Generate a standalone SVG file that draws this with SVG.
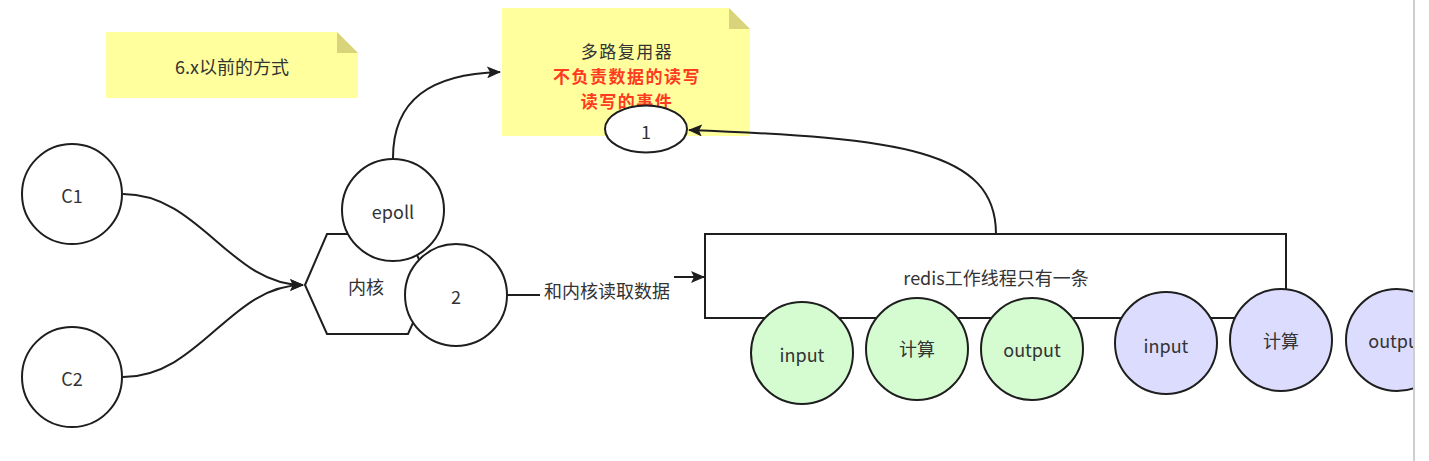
<svg xmlns="http://www.w3.org/2000/svg" width="1429" height="461" viewBox="0 0 1429 461">
<style>
  .t{font-family:"Noto Sans CJK SC","Noto Sans","Liberation Sans",sans-serif;font-size:18px;fill:#333;text-anchor:middle;dominant-baseline:central}
  .nt{font-size:17px;letter-spacing:1.5px}
  .red{fill:#ff3b1f;font-weight:bold}
  .shape{stroke:#1e1e1e;stroke-width:2;fill:#fff}
  .green{fill:#d5fcd1}
  .purple{fill:#dcdcff}
  .note{fill:#ffff9e}
  .fold{fill:#d9d47c}
  .edge{fill:none;stroke:#1e1e1e;stroke-width:2}
</style>
<defs>
  <marker id="arr" markerUnits="userSpaceOnUse" markerWidth="16" markerHeight="12" refX="13" refY="6" orient="auto">
    <path d="M0,0 L14,6 L0,12 L3,6 Z" fill="#1e1e1e"/>
  </marker>
  <clipPath id="view"><rect x="0" y="0" width="1414" height="461"/></clipPath>
</defs>
<rect width="1429" height="461" fill="#fff"/>

<g id="note-6x">
  <path class="note" d="M106,32 H337 L358,53 V98 H106 Z"/>
  <path class="fold" d="M337,32 L358,53 H337 Z"/>
  <text class="t" x="232" y="66">6.x以前的方式</text>
</g>

<g id="note-mux">
  <path class="note" d="M502,8 H729 L750,29 V136 H502 Z"/>
  <path class="fold" d="M729,8 L750,29 H729 Z"/>
  <text class="t nt" x="627" y="50">多路复用器</text>
  <text class="t nt red" x="627" y="75">不负责数据的读写</text>
  <text class="t nt red" x="627" y="100">读写的事件</text>
</g>

<g id="connectors">
  <path class="edge" d="M123,194 C200,194 230,285 303,285" marker-end="url(#arr)"/>
  <path class="edge" d="M123,377 C200,377 230,285 303,285" marker-end="url(#arr)"/>
  <path class="edge" d="M393,158 C393,100 430,74 500,72" marker-end="url(#arr)"/>
  <path class="edge" d="M996,234 C996,150 900,138 689,130" marker-end="url(#arr)"/>
  <path class="edge" d="M507,295 L607,295 L607,277 L704,277" marker-end="url(#arr)"/>
  <rect x="540" y="268" width="134" height="36" fill="#fff"/>
  <text class="t" x="607" y="290">和内核读取数据</text>
</g>

<g id="ellipse-1">
  <ellipse class="shape" cx="646" cy="129" rx="41" ry="23.5"/>
  <text class="t" x="646" y="131">1</text>
</g>

<g id="c1">
  <circle class="shape" cx="72" cy="194" r="50"/>
  <text class="t" x="72" y="195">C1</text>
</g>
<g id="c2">
  <circle class="shape" cx="72" cy="377" r="50"/>
  <text class="t" x="72" y="378">C2</text>
</g>

<g id="kernel">
  <path class="shape" d="M305,285 L327,234 L408,234 L430,285 L408,334 L327,334 Z"/>
  <text class="t" x="366" y="286">内核</text>
</g>
<g id="epoll">
  <circle class="shape" cx="393" cy="210" r="51"/>
  <text class="t" x="393" y="211">epoll</text>
</g>
<g id="n2">
  <circle class="shape" cx="456" cy="295" r="51"/>
  <text class="t" x="456" y="296">2</text>
</g>

<g id="redis">
  <rect class="shape" x="705" y="234" width="581" height="84"/>
  <text class="t" x="996" y="277">redis工作线程只有一条</text>
</g>

<g id="g-input">
  <circle class="shape green" cx="802" cy="353" r="51"/>
  <text class="t" x="802" y="354">input</text>
</g>
<g id="g-calc">
  <circle class="shape green" cx="917" cy="349" r="51"/>
  <text class="t" x="917" y="348">计算</text>
</g>
<g id="g-output">
  <circle class="shape green" cx="1032" cy="349" r="51"/>
  <text class="t" x="1032" y="349">output</text>
</g>

<g id="p-input">
  <circle class="shape purple" cx="1166" cy="343" r="51"/>
  <text class="t" x="1166" y="345">input</text>
</g>
<g id="p-calc">
  <circle class="shape purple" cx="1281" cy="340" r="51"/>
  <text class="t" x="1281" y="340">计算</text>
</g>
<g id="p-output" clip-path="url(#view)">
  <circle class="shape purple" cx="1397" cy="340" r="51"/>
  <text class="t" x="1397" y="340">output</text>
</g>

<line x1="1414" y1="0" x2="1414" y2="461" stroke="#cfcfcf" stroke-width="2"/>
</svg>
